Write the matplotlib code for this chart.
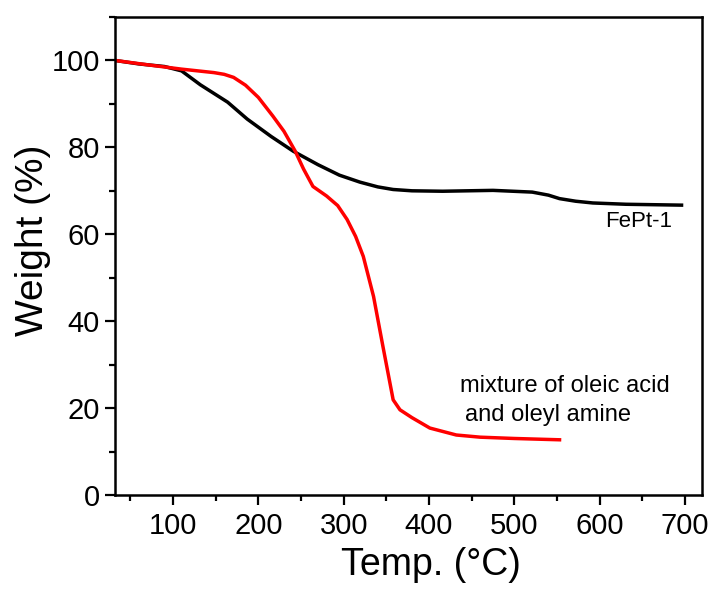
import matplotlib

matplotlib.use("Agg")
import matplotlib.pyplot as plt
from matplotlib.ticker import MultipleLocator

plt.rcParams["font.family"] = ["Liberation Sans", "DejaVu Sans"]

# FePt-1 TGA trace
fept_temp = [32, 60, 90, 110, 132, 164, 187, 215, 241, 270, 295, 319, 340, 358,
             380, 416, 475, 521, 540, 553, 572, 592, 631, 696]
fept_weight = [100, 99.2, 98.6, 97.6, 94.4, 90.4, 86.5, 82.5, 79.1, 76.0, 73.6, 72.0,
               70.9, 70.3, 70.0, 69.9, 70.1, 69.7, 69.0, 68.2, 67.6, 67.2, 66.9, 66.7]

# oleic acid / oleyl amine mixture
mix_temp = [32, 70, 110, 148, 160, 171, 185, 200, 217, 230, 243, 253, 264, 280, 293,
            304, 314, 323, 335, 346, 358, 366, 380, 401, 432, 460, 500, 553]
mix_weight = [100, 99.0, 98.0, 97.2, 96.8, 96.1, 94.3, 91.5, 87.2, 83.7, 79.2, 75.0,
              71.0, 68.8, 66.6, 63.4, 59.5, 54.9, 45.7, 34.2, 21.9, 19.6, 17.8, 15.4,
              13.8, 13.3, 13.0, 12.7]

fig = plt.figure(figsize=(7.13, 5.92), dpi=100)
ax = fig.add_axes([0.1613, 0.1639, 0.8233, 0.8074])

ax.plot(fept_temp, fept_weight, color="black", lw=2.5, solid_joinstyle="round")
ax.plot(mix_temp, mix_weight, color="#ff0000", lw=2.5, solid_joinstyle="round")

ax.set_xlim(32, 720)
ax.set_ylim(0, 110)
ax.xaxis.set_major_locator(MultipleLocator(100))
ax.xaxis.set_minor_locator(MultipleLocator(50))
ax.yaxis.set_major_locator(MultipleLocator(20))
ax.yaxis.set_minor_locator(MultipleLocator(10))

for s in ax.spines.values():
    s.set_linewidth(1.8)
ax.tick_params(which="both", direction="out", top=False, right=False, width=1.6)
ax.tick_params(which="major", length=7, labelsize=21)
ax.tick_params(axis="x", which="major", pad=5)
ax.tick_params(axis="y", which="major", pad=4)
ax.tick_params(which="minor", length=4)

ax.set_xlabel("Temp. (°C)", fontsize=27, va="center")
ax.xaxis.set_label_coords(0.538, -0.146)
ax.set_ylabel("Weight (%)", fontsize=28, va="center")
ax.yaxis.set_label_coords(-0.14, 0.533)

ax.text(606, 62.9, "FePt-1", fontsize=16, va="center", ha="left")
ax.text(436, 25.0, "mixture of oleic acid", fontsize=17, va="center", ha="left")
ax.text(442, 18.4, "and oleyl amine", fontsize=17, va="center", ha="left")

fig.savefig("out.png", dpi=100)
plt.close(fig)
